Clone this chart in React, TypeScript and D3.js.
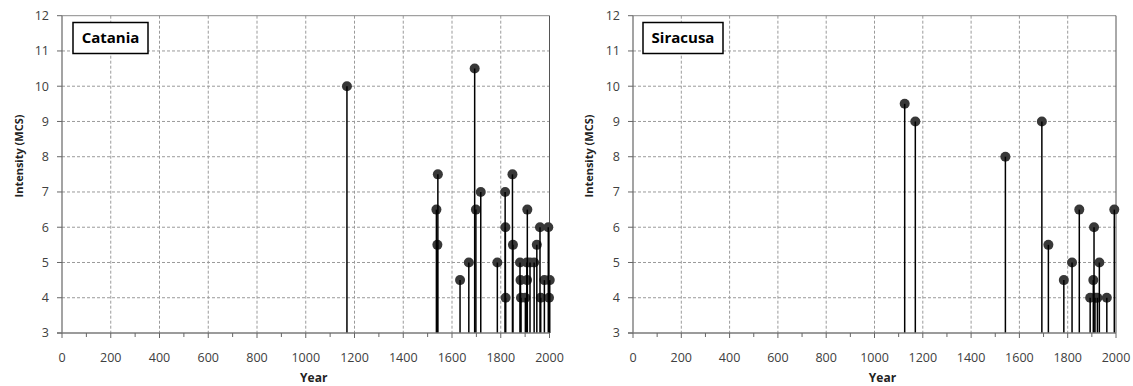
import React from "react";
import * as d3 from "d3";

const xTicks = [0, 200, 400, 600, 800, 1000, 1200, 1400, 1600, 1800, 2000];
const xMinorTicks = [100, 300, 500, 700, 900, 1100, 1300, 1500, 1700, 1900];
const yTicks = [3, 4, 5, 6, 7, 8, 9, 10, 11, 12];

const cataniaYears = [1169, 1536, 1540, 1542, 1633, 1669, 1693, 1698, 1718, 1786, 1818, 1819, 1820, 1848, 1850, 1879, 1881, 1883, 1901, 1907, 1908, 1909, 1920, 1937, 1948, 1961, 1964, 1979, 1995, 1998, 2001];
const cataniaIntensity = [10, 6.5, 5.5, 7.5, 4.5, 5, 10.5, 6.5, 7, 5, 7, 6, 4, 7.5, 5.5, 5, 4.5, 4, 4, 5, 4.5, 6.5, 5, 5, 5.5, 6, 4, 4.5, 6, 4, 4.5];

const siracusaYears = [1125, 1169, 1542, 1693, 1720, 1784, 1818, 1848, 1893, 1906, 1909, 1913, 1923, 1931, 1962, 1993];
const siracusaIntensity = [9.5, 9, 8, 9, 5.5, 4.5, 5, 6.5, 4, 4.5, 6, 4, 4, 5, 4, 6.5];

const FONT = "'Open Sans', sans-serif";

type PanelProps = {
  title: string;
  years: number[];
  values: number[];
  x0: number;
  x1: number;
  titleBox: [number, number, number, number];
  yLabelX: number;
};

function Panel({ title, years, values, x0, x1, titleBox, yLabelX }: PanelProps) {
  const x = d3.scaleLinear().domain([0, 2000]).range([x0, x1]);
  const y = d3.scaleLinear().domain([3, 12]).range([333, 15.7]);
  const [bx, by, bw, bh] = titleBox;
  return (
    <g>
      {yTicks.filter((t) => t > 3 && t < 12).map((t) => (
        <line key={"gy" + t} x1={x0} x2={x1} y1={y(t)} y2={y(t)} stroke="#9a9a9a" strokeWidth={1} strokeDasharray="3,2" />
      ))}
      {xTicks.filter((t) => t > 0 && t < 2000).map((t) => (
        <line key={"gx" + t} x1={x(t)} x2={x(t)} y1={y(12)} y2={y(3)} stroke="#9a9a9a" strokeWidth={1} strokeDasharray="3,2" />
      ))}
      <line x1={x0} x2={x1} y1={y(12)} y2={y(12)} stroke="#8a8a8a" strokeWidth={1} />
      <line x1={x1} x2={x1} y1={y(12)} y2={y(3)} stroke="#555" strokeWidth={1} />
      {years.map((yr, i) => (
        <circle key={"c" + i} cx={x(yr)} cy={y(values[i])} r={5} fill="#383838" />
      ))}
      {years.map((yr, i) => (
        <line key={"s" + i} x1={x(yr)} x2={x(yr)} y1={y(3)} y2={y(values[i])} stroke="#000" strokeWidth={1.5} />
      ))}
      <line x1={x0} x2={x0} y1={y(12)} y2={y(3)} stroke="#666" strokeWidth={1.2} />
      {yTicks.map((t) => (
        <g key={"yt" + t}>
          <line x1={x0 - 5} x2={x0} y1={y(t)} y2={y(t)} stroke="#666" strokeWidth={1} />
          <text x={x0 - 13} y={y(t)} dy="0.35em" textAnchor="end" fontFamily={FONT} fontSize={12.5} fill="#404040">{t}</text>
        </g>
      ))}
      <line x1={x0 - 5} x2={x1} y1={y(3)} y2={y(3)} stroke="#7a7a7a" strokeWidth={1.5} />
      {xTicks.map((t) => (
        <g key={"xt" + t}>
          <line x1={x(t)} x2={x(t)} y1={y(3)} y2={y(3) + 5} stroke="#666" strokeWidth={1} />
          <text x={x(t)} y={358} dy="0.35em" textAnchor="middle" fontFamily={FONT} fontSize={12.5} fill="#404040">{t}</text>
        </g>
      ))}
      {xMinorTicks.map((t) => (
        <line key={"xm" + t} x1={x(t)} x2={x(t)} y1={y(3)} y2={y(3) + 4} stroke="#666" strokeWidth={1} />
      ))}
      <text x={(x0 + x1) / 2 + 8} y={378} dy="0.35em" textAnchor="middle" fontFamily={FONT} fontSize={12} fontWeight="bold" fill="#222">Year</text>
      <text transform={`translate(${yLabelX},156) rotate(-90)`} textAnchor="middle" dy="0.35em" fontFamily={FONT} fontSize={11} fontWeight="bold" fill="#222">Intensity (MCS)</text>
      <rect x={bx} y={by} width={bw} height={bh} fill="#fff" stroke="#000" strokeWidth={1.5} />
      <text x={bx + bw / 2} y={by + bh / 2} dy="0.35em" textAnchor="middle" fontFamily={FONT} fontSize={15} fontWeight="bold" fill="#000">{title}</text>
    </g>
  );
}

export default function App() {
  return (
    <svg width={1133} height={386} style={{ position: "absolute", left: 0, top: 0, background: "#fff" }}>
      <rect x={0} y={0} width={1133} height={386} fill="#fff" />
      <Panel title="Catania" years={cataniaYears} values={cataniaIntensity} x0={62} x1={549.5} titleBox={[73, 22.5, 75, 31]} yLabelX={19} />
      <Panel title="Siracusa" years={siracusaYears} values={siracusaIntensity} x0={633} x1={1116} titleBox={[643, 22.5, 80, 31]} yLabelX={589} />
    </svg>
  );
}
